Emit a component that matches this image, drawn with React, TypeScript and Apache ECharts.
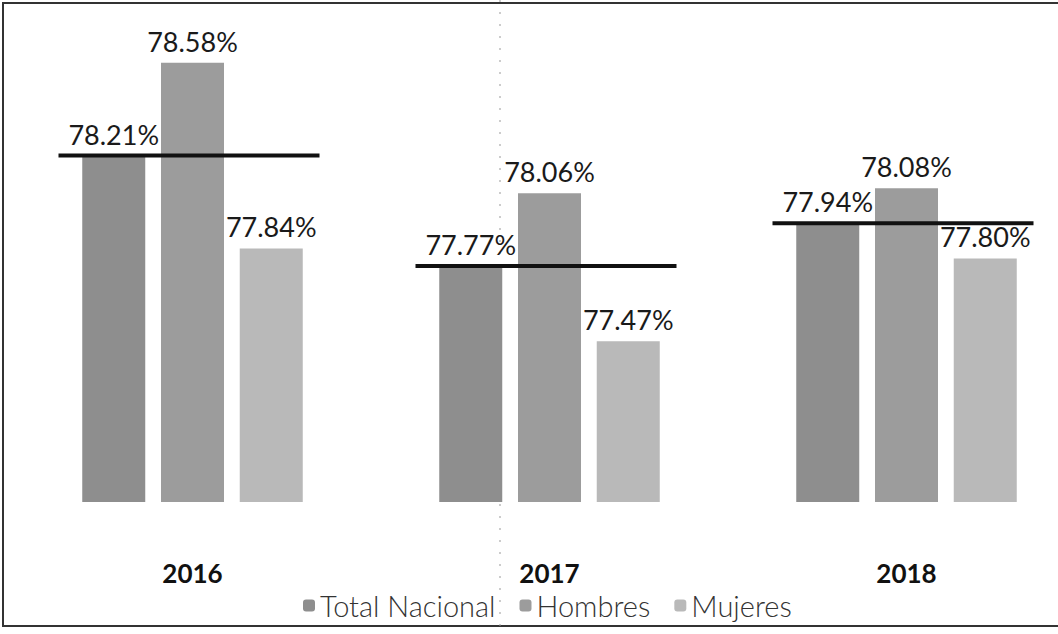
import React, { useEffect, useRef } from "react";
import * as echarts from "echarts";

const years = ["2016", "2017", "2018"];
const totalNacional = [78.21, 77.77, 77.94];
const hombres = [78.58, 78.06, 78.08];
const mujeres = [77.84, 77.47, 77.8];
const seriesNames = ["Total Nacional", "Hombres", "Mujeres"];

const fmt = (v: number) => v.toFixed(2) + "%";

export default function App() {
  const ref = useRef<HTMLDivElement>(null);
  useEffect(() => {
    if (!ref.current) return;
    const chart = echarts.init(ref.current, null, { renderer: "svg" });
    const labelStyle = {
      show: true,
      position: "top" as const,
      distance: 8,
      fontFamily: "Lato",
      fontSize: 27,
      color: "#1a1a1a",
      formatter: (p: any) => fmt(p.value),
    };
    chart.setOption({
      animation: false,
      backgroundColor: "#ffffff",
      textStyle: { fontFamily: "Lato" },
      grid: { left: 14, top: 20, width: 1071, height: 482 },
      xAxis: {
        type: "category",
        data: years,
        axisLine: { show: false },
        axisTick: { show: false },
        axisLabel: {
          margin: 58,
          fontSize: 26,
          fontWeight: "bold",
          color: "#111",
          fontFamily: "Lato",
        },
      },
      yAxis: {
        type: "value",
        min: 76.83,
        max: 78.75,
        show: false,
        splitLine: { show: false },
      },
      legend: {
        data: seriesNames,
        left: 298,
        top: 586,
        itemWidth: 12,
        itemHeight: 12,
        itemGap: 24,
        textStyle: { fontSize: 29, color: "#333", fontFamily: "Lato", fontWeight: 300 },
      },
      series: [
        {
          name: seriesNames[0],
          type: "bar",
          data: totalNacional,
          barWidth: 63,
          barGap: "25%",
          itemStyle: { color: "#8e8e8e" },
          label: labelStyle,
        },
        {
          name: seriesNames[1],
          type: "bar",
          data: hombres,
          barWidth: 63,
          barGap: "25%",
          itemStyle: { color: "#9c9c9c" },
          label: labelStyle,
        },
        {
          name: seriesNames[2],
          type: "bar",
          data: mujeres,
          barWidth: 63,
          barGap: "25%",
          itemStyle: { color: "#b9b9b9" },
          label: labelStyle,
        },
        {
          name: "linea",
          type: "custom",
          z: 10,
          data: totalNacional.map((v, i) => [i, v]),
          renderItem: (params: any, api: any) => {
            const p = api.coord([api.value(0), api.value(1)]);
            return {
              type: "line",
              shape: { x1: p[0] - 134, y1: p[1], x2: p[0] + 127, y2: p[1] },
              style: { stroke: "#111", lineWidth: 4 },
            };
          },
        },
      ],
      graphic: [
        {
          type: "rect",
          shape: { x: 3, y: 3, width: 1100, height: 623 },
          style: { fill: "none", stroke: "#333", lineWidth: 2 },
          silent: true,
        },
        {
          type: "line",
          shape: { x1: 500, y1: 0, x2: 500, y2: 634 },
          style: { stroke: "#999", lineWidth: 1, lineDash: [2, 10] },
          silent: true,
        },
      ],
    });
    return () => chart.dispose();
  }, []);
  return (
    <div
      ref={ref}
      style={{ position: "fixed", left: 0, top: 0, width: 1100, height: 634 }}
    />
  );
}
